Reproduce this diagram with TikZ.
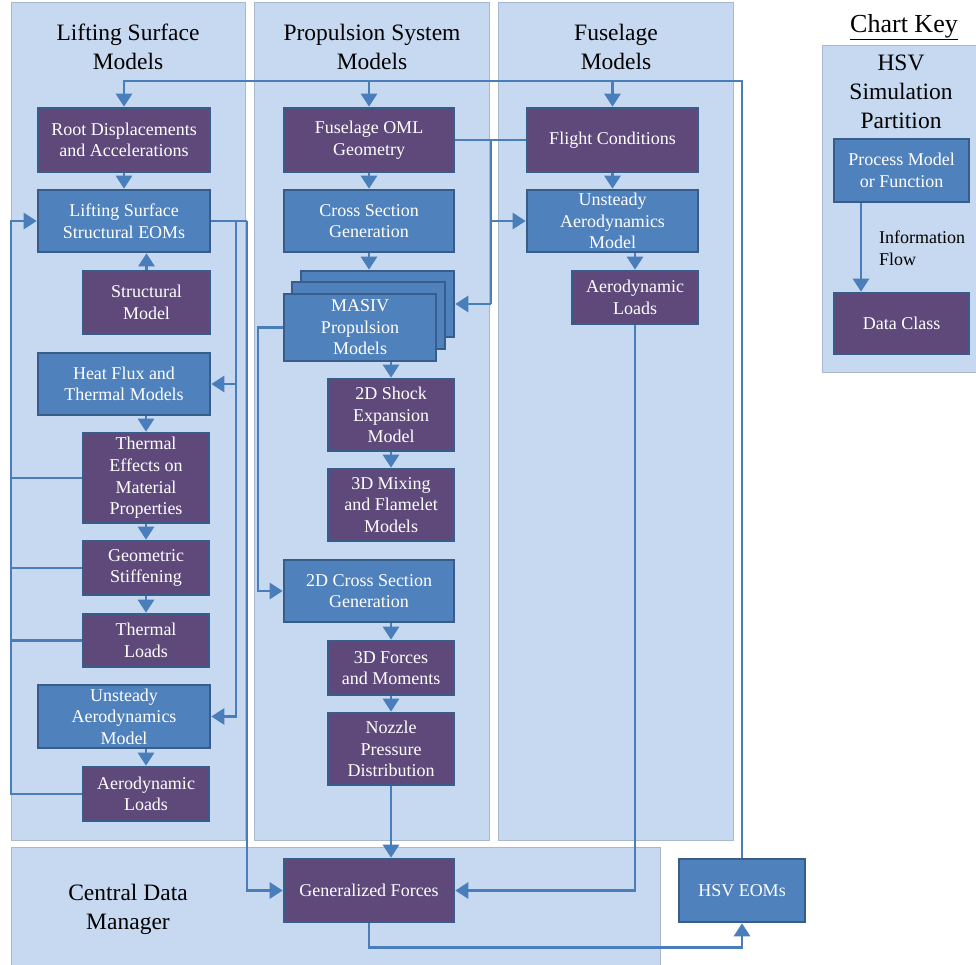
\documentclass[tikz,border=0pt]{standalone}
\usepackage{fontspec}
\setmainfont{Liberation Serif}
\usetikzlibrary{arrows.meta}
\definecolor{panelc}{HTML}{C6D9F1}
\definecolor{pborder}{HTML}{A9B8CC}
\definecolor{bluc}{HTML}{4F81BD}
\definecolor{purc}{HTML}{5F497A}
\definecolor{bordc}{HTML}{385D8A}
\definecolor{lnc}{HTML}{4A7EBB}
\newcommand\nodefont{\fontsize{18}{21.6}\selectfont}
\newcommand\titlefont{\fontsize{23.5}{28.8}\selectfont}
\tikzset{
  panel/.style={fill=panelc, draw=pborder, line width=0.8pt},
  basebox/.style={draw=bordc, line width=2.6pt, text=white, align=center, inner sep=0pt, font=\nodefont},
  pbox/.style={basebox, fill=purc},
  bbox/.style={basebox, fill=bluc},
  conn/.style={draw=lnc, line width=2.8pt},
  arr/.style={conn, -{Triangle[width=16pt,length=13pt]}},
  ttl/.style={align=center, font=\titlefont, text=black, inner sep=0pt},
}
\begin{document}
\begin{tikzpicture}[x=1pt,y=-1pt]
\useasboundingbox (0,0) rectangle (976,965);
% panels
\draw[panel] (11,2) rectangle (245,840);
\draw[panel] (254,2) rectangle (489,840);
\draw[panel] (498,2) rectangle (733,840);
\draw[panel] (11,847) rectangle (660,965);
\draw[panel] (822,45) rectangle (976,372);
% titles
\node[ttl] (t1) at (128,47) {Lifting Surface\\Models};
\node[ttl] (t2) at (372,47) {Propulsion System\\Models};
\node[ttl] (t3) at (616,47) {Fuselage\\Models};
\node[ttl] (t4) at (128,909) {Central Data\\Manager};
\node[ttl, font=\fontsize{26}{30}\selectfont] (t5) at (904,27) {\underline{Chart Key}};
\node[ttl] (t6) at (901,92) {HSV\\Simulation\\Partition};
\node[align=left, font=\nodefont, inner sep=0pt, anchor=west] (t7) at (879,248) {Information\\Flow};
% left column
\node[pbox, minimum width=172pt, minimum height=64pt] (root) at (124,140) {Root Displacements\\and Accelerations};
\node[bbox, minimum width=172pt, minimum height=62pt] (lseom) at (124,221) {Lifting Surface\\Structural EOMs};
\node[pbox, minimum width=127pt, minimum height=63pt] (struct) at (146.5,302.5) {Structural\\Model};
\node[bbox, minimum width=172pt, minimum height=62pt] (heat) at (124,384) {Heat Flux and\\Thermal Models};
\node[pbox, minimum width=126pt, minimum height=90pt] (theff) at (146,478) {Thermal\\Effects on\\Material\\Properties};
\node[pbox, minimum width=126pt, minimum height=54pt] (geo) at (146,568) {Geometric\\Stiffening};
\node[pbox, minimum width=126pt, minimum height=53pt] (tload) at (146,640.5) {Thermal\\Loads};
\node[bbox, minimum width=172pt, minimum height=63pt] (uaL) at (124,716.5) {Unsteady\\Aerodynamics\\Model};
\node[pbox, minimum width=126pt, minimum height=54pt] (alL) at (146,794) {Aerodynamic\\Loads};
% middle column
\node[pbox, minimum width=170pt, minimum height=64pt] (oml) at (369,140) {Fuselage OML\\Geometry};
\node[bbox, minimum width=170pt, minimum height=62pt] (csg) at (369,221) {Cross Section\\Generation};
\node[bbox, minimum width=153pt, minimum height=66pt] (mb) at (377.5,304) {};
\node[bbox, minimum width=153pt, minimum height=67pt] (mm) at (368.5,315.5) {};
\node[bbox, minimum width=152pt, minimum height=67pt] (mf) at (360,327.5) {MASIV\\Propulsion\\Models};
\node[pbox, minimum width=126pt, minimum height=72pt] (shock) at (391,415) {2D Shock\\Expansion\\Model};
\node[pbox, minimum width=126pt, minimum height=72pt] (mix) at (391,505) {3D Mixing\\and Flamelet\\Models};
\node[bbox, minimum width=170pt, minimum height=62pt] (cs2d) at (369,591) {2D Cross Section\\Generation};
\node[pbox, minimum width=126pt, minimum height=54pt] (f3d) at (391,668) {3D Forces\\and Moments};
\node[pbox, minimum width=126pt, minimum height=72pt] (nozzle) at (391,749) {Nozzle\\Pressure\\Distribution};
\node[pbox, minimum width=170pt, minimum height=63pt] (gf) at (369,890.5) {Generalized Forces};
% right column
\node[pbox, minimum width=171pt, minimum height=64pt] (fc) at (612.5,140) {Flight Conditions};
\node[bbox, minimum width=171pt, minimum height=62pt] (uaR) at (612.5,221) {Unsteady\\Aerodynamics\\Model};
\node[pbox, minimum width=126pt, minimum height=53pt] (alR) at (635,297.5) {Aerodynamic\\Loads};
\node[bbox, minimum width=126pt, minimum height=63pt] (hsv) at (742,890.5) {HSV EOMs};
% key
\node[bbox, minimum width=135pt, minimum height=63pt] (proc) at (901.5,170.5) {Process Model\\or Function};
\node[pbox, minimum width=135pt, minimum height=61pt] (dc) at (901.5,323.5) {Data Class};
% coordinates
\coordinate (bus) at (0,81);
\coordinate (vL) at (11,0);
\coordinate (vA) at (236,0);
\coordinate (vB) at (247,0);
\coordinate (vP) at (258,0);
\coordinate (vM) at (491,0);
\coordinate (kx) at (861,0);
% top bus
\draw[arr] (hsv.north) -- (hsv.north |- bus) -| (root.north);
\draw[arr] (oml.north |- bus) -- (oml.north);
\draw[arr] (fc.north |- bus) -- (fc.north);
% left column flows
\draw[arr] (root.south) -- (lseom.north);
\draw[arr] (struct.north) -- (struct.north |- lseom.south);
\draw[conn] (lseom.east) -- (vB |- lseom.east);
\draw[arr] (vA |- lseom.east) -- (vA |- heat.east) -- (heat.east);
\draw[arr] (vA |- heat.east) -- (vA |- uaL.east) -- (uaL.east);
\draw[arr] (vB |- lseom.east) -- (vB |- gf.west) -- (gf.west);
\draw[arr] (theff.north |- heat.south) -- (theff.north);
\draw[arr] (theff.south) -- (geo.north);
\draw[arr] (geo.south) -- (tload.north);
\draw[arr] (alL.north |- uaL.south) -- (alL.north);
\draw[arr] (alL.west) -- (vL |- alL.west) -- (vL |- lseom.west) -- (lseom.west);
\draw[conn] (theff.west) -- (vL |- theff.west);
\draw[conn] (geo.west) -- (vL |- geo.west);
\draw[conn] (tload.west) -- (vL |- tload.west);
% middle column flows
\draw[arr] (oml.south) -- (csg.north);
\draw[arr] (csg.south) -- (csg.south |- mb.north);
\draw[conn] (oml.east) -- (fc.west);
\draw[conn] (vM |- oml.east) -- (vM |- mb.east);
\draw[arr] (vM |- uaR.west) -- (uaR.west);
\draw[arr] (vM |- mb.east) -- (mb.east);
\draw[arr] (shock.north |- mf.south) -- (shock.north);
\draw[arr] (shock.south) -- (mix.north);
\draw[arr] (mf.west) -- (vP |- mf.west) -- (vP |- cs2d.west) -- (cs2d.west);
\draw[arr] (f3d.north |- cs2d.south) -- (f3d.north);
\draw[arr] (f3d.south) -- (nozzle.north);
\draw[arr] (nozzle.south) -- (nozzle.south |- gf.north);
% right column flows
\draw[arr] (fc.south) -- (uaR.north);
\draw[arr] (alR.north |- uaR.south) -- (alR.north);
\draw[arr] (alR.south) |- (gf.east);
\draw[arr] (gf.south) -- ++(0,24) -| (hsv.south);
% key
\draw[arr] (kx |- proc.south) -- (kx |- dc.north);
\end{tikzpicture}
\end{document}
